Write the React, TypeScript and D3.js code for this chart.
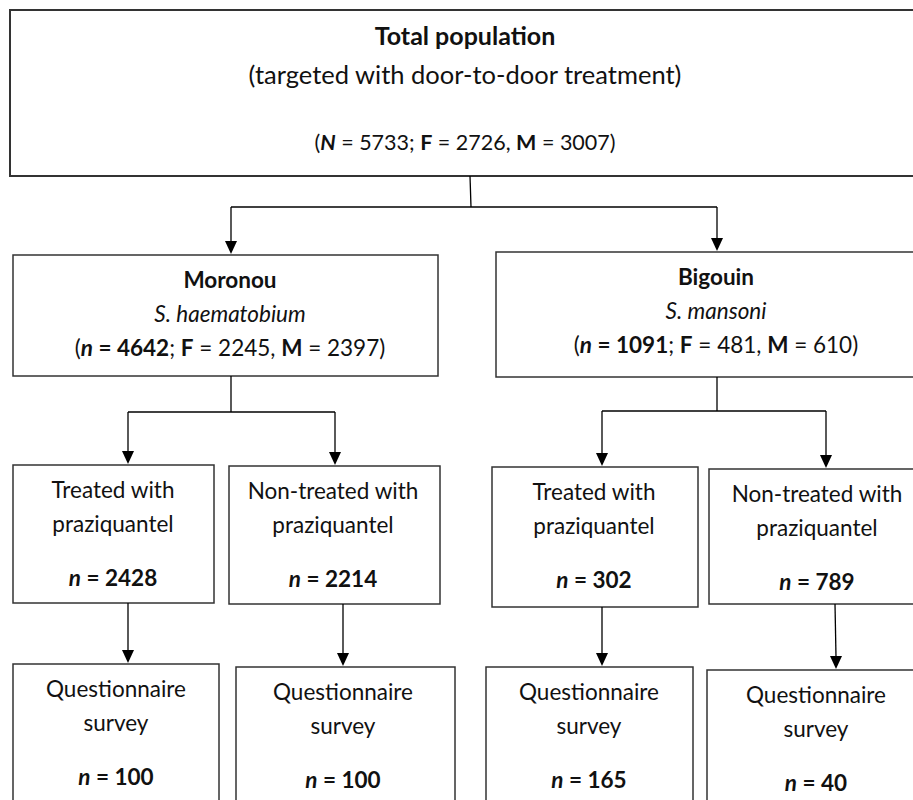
import React from 'react';
import * as d3 from 'd3';

// values
const totalN = 5733;
const totalF = 2726;
const totalM = 3007;
const siteNames = ['Moronou', 'Bigouin'];
const siteSpecies = ['S. haematobium', 'S. mansoni'];
const siteN = [4642, 1091];
const siteF = [2245, 481];
const siteM = [2397, 610];
const groupLabels = ['Treated with', 'Non-treated with', 'Treated with', 'Non-treated with'];
const groupN = [2428, 2214, 302, 789];
const surveyN = [100, 100, 165, 40];

// layout (pixels)
const topBox = { x0: 10, x1: 916, y0: 10, y1: 176 };
const siteBoxes = [
  { x0: 13, x1: 438, y0: 255, y1: 376 },
  { x0: 496, x1: 916, y0: 252, y1: 377 },
];
const siteCenterX = [230, 716];
const groupBoxes = [
  { x0: 13, x1: 214, y0: 465, y1: 603 },
  { x0: 229, x1: 440, y0: 466, y1: 604 },
  { x0: 492, x1: 698, y0: 467, y1: 607 },
  { x0: 709, x1: 916, y0: 469, y1: 604 },
];
const surveyBoxes = [
  { x0: 13, x1: 219, y0: 664, y1: 810 },
  { x0: 236, x1: 455, y0: 667, y1: 810 },
  { x0: 486, x1: 693, y0: 667, y1: 810 },
  { x0: 707, x1: 916, y0: 670, y1: 810 },
];
const siteArrowX = [231, 717];
const groupArrowX = [128, 335, 602, 826];
const groupCenterX = [113, 333, 594, 817];
const surveyArrowX = [128, 343, 602, 836];
const surveyCenterX = [116, 343, 589, 816];

const FONT = 'Lato, "Open Sans", sans-serif';
const STROKE = '#333';
const BODY = 22.5;
const fmt = d3.format('d');

type Seg = { t: string; b?: boolean; i?: boolean };

const Line = ({ x, y, segs, size = BODY }: { x: number; y: number; segs: Seg[]; size?: number }) => (
  <text x={x} y={y} dy="0.35em" textAnchor="middle" fontFamily={FONT} fontSize={size} fill="#111">
    {segs.map((s, k) => (
      <tspan key={k} fontWeight={s.b ? 'bold' : 'normal'} fontStyle={s.i ? 'italic' : 'normal'}>
        {s.t}
      </tspan>
    ))}
  </text>
);

const Box = ({ b, w = 1.5 }: { b: { x0: number; x1: number; y0: number; y1: number }; w?: number }) => (
  <rect x={b.x0} y={b.y0} width={b.x1 - b.x0} height={b.y1 - b.y0} fill="white" stroke={STROKE} strokeWidth={w} />
);

const Arrow = ({ x1, y1, x2, y2 }: { x1: number; y1: number; x2: number; y2: number }) => {
  const path = d3.path();
  path.moveTo(x2 - 6, y2 - 13);
  path.lineTo(x2 + 6, y2 - 13);
  path.lineTo(x2, y2);
  path.closePath();
  return (
    <g>
      <line x1={x1} y1={y1} x2={x2} y2={y2 - 12} stroke="#000" strokeWidth={1.3} />
      <path d={path.toString()} fill="#000" />
    </g>
  );
};

export default function App() {
  const topMidX = (siteArrowX[0] + siteArrowX[1]) / 2 - 4;
  const splitY = 207;
  return (
    <svg width={913} height={800} style={{ position: 'absolute', left: 0, top: 0, background: 'white' }}>
      {/* top box */}
      <Box b={topBox} w={2} />
      <Line x={465} y={36} segs={[{ t: 'Total population', b: true }]} size={25} />
      <Line x={465} y={75} segs={[{ t: '(targeted with door-to-door treatment)' }]} size={25.5} />
      <Line
        x={465}
        y={142}
        size={21.5}
        segs={[
          { t: '(' },
          { t: 'N', b: true, i: true },
          { t: ` = ${fmt(totalN)}; ` },
          { t: 'F', b: true },
          { t: ` = ${fmt(totalF)}, ` },
          { t: 'M', b: true },
          { t: ` = ${fmt(totalM)})` },
        ]}
      />
      {/* top connectors */}
      <line x1={topMidX} y1={topBox.y1} x2={topMidX + 1} y2={splitY} stroke="#000" strokeWidth={1.3} />
      <line x1={siteArrowX[0]} y1={splitY} x2={siteArrowX[1]} y2={splitY} stroke="#000" strokeWidth={1.3} />
      {siteArrowX.map((x, i) => (
        <Arrow key={i} x1={x} y1={splitY} x2={x} y2={siteBoxes[i].y0 - 1} />
      ))}

      {/* site boxes */}
      {siteBoxes.map((b, i) => {
        const cx = siteCenterX[i];
        const split = 412 - i;
        const kids = [groupArrowX[i * 2], groupArrowX[i * 2 + 1]];
        return (
          <g key={i}>
            <Box b={b} />
            <Line x={cx} y={b.y0 + 25} segs={[{ t: siteNames[i], b: true }]} />
            <Line x={cx} y={b.y0 + 59} segs={[{ t: siteSpecies[i], i: true }]} />
            <Line
              x={cx}
              y={b.y0 + 93}
              segs={[
                { t: '(' },
                { t: 'n', b: true, i: true },
                { t: ` = ${fmt(siteN[i])}`, b: true },
                { t: '; ' },
                { t: 'F', b: true },
                { t: ` = ${fmt(siteF[i])}, ` },
                { t: 'M', b: true },
                { t: ` = ${fmt(siteM[i])})` },
              ]}
            />
            <line x1={cx + 1} y1={b.y1} x2={cx + 1} y2={split} stroke="#000" strokeWidth={1.3} />
            <line x1={kids[0]} y1={split} x2={kids[1]} y2={split} stroke="#000" strokeWidth={1.3} />
            {kids.map((x, k) => (
              <Arrow key={k} x1={x} y1={split} x2={x} y2={groupBoxes[i * 2 + k].y0 - 1} />
            ))}
          </g>
        );
      })}

      {/* treatment group boxes */}
      {groupBoxes.map((b, i) => (
        <g key={i}>
          <Box b={b} />
          <Line x={groupCenterX[i]} y={b.y0 + 25} segs={[{ t: groupLabels[i] }]} />
          <Line x={groupCenterX[i]} y={b.y0 + 59} segs={[{ t: 'praziquantel' }]} />
          <Line
            x={groupCenterX[i]}
            y={b.y0 + 113}
            segs={[{ t: 'n', b: true, i: true }, { t: ` = ${fmt(groupN[i])}`, b: true }]}
          />
          <Arrow x1={surveyArrowX[i] === 836 ? 835 : surveyArrowX[i]} y1={b.y1} x2={surveyArrowX[i]} y2={surveyBoxes[i].y0 - 1} />
        </g>
      ))}

      {/* survey boxes */}
      {surveyBoxes.map((b, i) => (
        <g key={i}>
          <Box b={b} />
          <Line x={surveyCenterX[i]} y={b.y0 + 25} segs={[{ t: 'Questionnaire' }]} />
          <Line x={surveyCenterX[i]} y={b.y0 + 59} segs={[{ t: 'survey' }]} />
          <Line
            x={surveyCenterX[i]}
            y={b.y0 + 113}
            segs={[{ t: 'n', b: true, i: true }, { t: ` = ${fmt(surveyN[i])}`, b: true }]}
          />
        </g>
      ))}
    </svg>
  );
}
